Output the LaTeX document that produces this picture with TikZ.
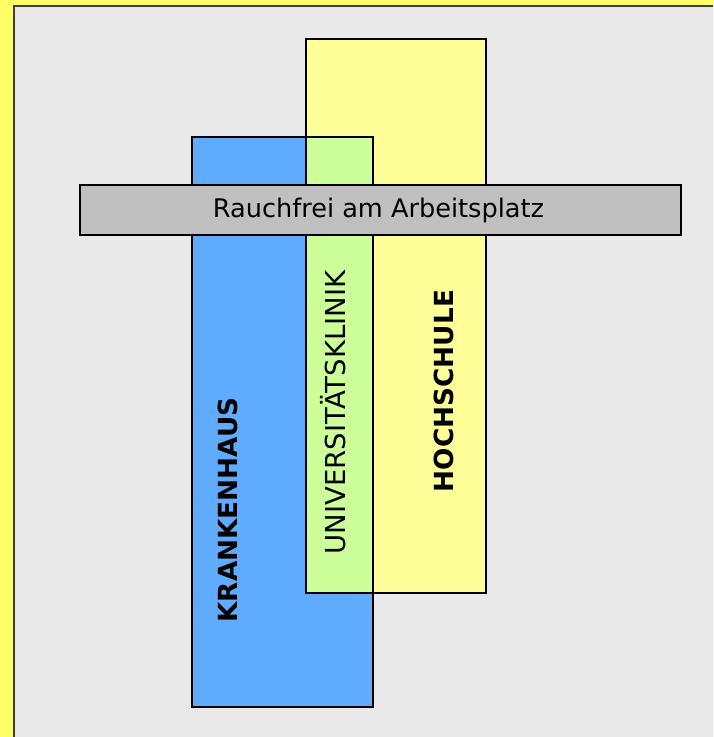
\documentclass[tikz,border=0pt]{standalone}
\usepackage{fontspec}
\setmainfont{DejaVu Sans}
\definecolor{frameyellow}{RGB}{255,255,102}
\definecolor{panelgray}{RGB}{233,233,233}
\definecolor{edgegray}{RGB}{60,60,60}
\definecolor{kblue}{RGB}{95,172,255}
\definecolor{hyellow}{RGB}{255,255,153}
\definecolor{ugreen}{RGB}{204,255,153}
\definecolor{bargray}{RGB}{192,192,192}
\tikzset{
  box/.style={draw=black,line width=1.5pt},
  lbl/.style={inner sep=0pt,anchor=base,font=\fontsize{25.6}{26}\selectfont},
  bold lbl/.style={lbl,font=\fontsize{26.3}{27}\selectfont\bfseries}
}
\begin{document}
\begin{tikzpicture}[x=1pt,y=-1pt]
    \useasboundingbox (0,0) rectangle (713,737);
    \fill[frameyellow] (0,0) rectangle (713,737);
    \fill[panelgray] (13,5) rectangle (713,737);
    \draw[edgegray,line width=2pt] (14,737) -- (14,6) -- (713,6);
    % the three bars
    \draw[box,fill=kblue] (192,137) rectangle (373,707);
    \draw[box,fill=hyellow] (306,39) rectangle (486,593);
    \draw[box,fill=ugreen] (306,137) rectangle (373,593);
    \draw[box,fill=bargray] (80,185) rectangle (681,235);
    \node[lbl] (rauchfrei) at (378.5,217) {Rauchfrei am Arbeitsplatz};
    \node[lbl,rotate=90,font=\fontsize{27.5}{28}\selectfont] (klinik) at (345,412.5) {UNIVERSITÄTSKLINIK};
    \node[bold lbl,rotate=90] (hochschule) at (453,391) {HOCHSCHULE};
    \node[bold lbl,rotate=90] (krankenhaus) at (237,510) {KRANKENHAUS};
\end{tikzpicture}
\end{document}
